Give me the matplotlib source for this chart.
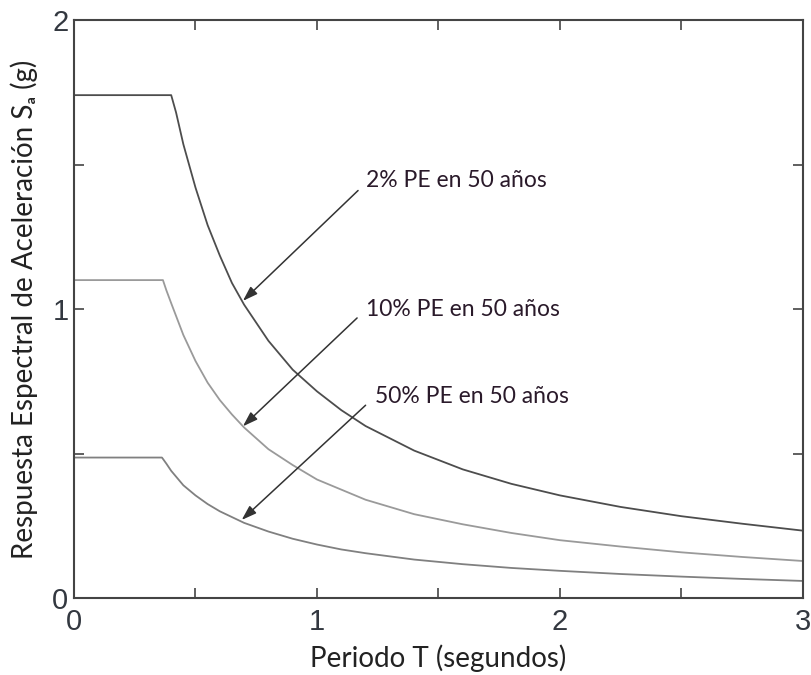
import numpy as np
import matplotlib.pyplot as plt
from matplotlib.ticker import MultipleLocator, FuncFormatter

# Periodo T (s) y Sa (g)
T_2 = [0.0, 0.40, 0.42, 0.45, 0.5, 0.55, 0.6, 0.65, 0.7, 0.8, 0.9, 1.0, 1.1, 1.2, 1.4, 1.6, 1.8, 2.0, 2.25, 2.5, 2.75, 3.0]
sa_2 = [1.74, 1.74, 1.68, 1.57, 1.42, 1.29, 1.185, 1.09, 1.015, 0.89, 0.79, 0.715, 0.65, 0.595, 0.51, 0.445, 0.395, 0.355, 0.315, 0.283, 0.257, 0.233]

T_10 = [0.0, 0.366, 0.38, 0.4, 0.45, 0.5, 0.55, 0.6, 0.65, 0.7, 0.8, 0.9, 1.0, 1.1, 1.2, 1.4, 1.6, 1.8, 2.0, 2.25, 2.5, 2.75, 3.0]
sa_10 = [1.10, 1.10, 1.065, 1.02, 0.91, 0.82, 0.745, 0.685, 0.635, 0.59, 0.515, 0.46, 0.41, 0.375, 0.34, 0.29, 0.255, 0.225, 0.20, 0.178, 0.158, 0.142, 0.128]

T_50 = [0.0, 0.362, 0.38, 0.4, 0.45, 0.5, 0.55, 0.6, 0.65, 0.7, 0.8, 0.9, 1.0, 1.1, 1.2, 1.4, 1.6, 1.8, 2.0, 2.25, 2.5, 2.75, 3.0]
sa_50 = [0.486, 0.486, 0.465, 0.44, 0.39, 0.355, 0.325, 0.30, 0.28, 0.26, 0.23, 0.205, 0.185, 0.168, 0.155, 0.133, 0.117, 0.104, 0.094, 0.083, 0.074, 0.066, 0.059]

etiquetas = ["2% PE en 50 años", "10% PE en 50 años", "50% PE en 50 años"]
pos_texto = [(1.20, 1.444), (1.20, 1.0), (1.24, 0.698)]
flecha_ini = [(1.169, 1.41), (1.165, 0.969), (1.20, 0.667)]
flecha_fin = [(0.695, 1.028), (0.695, 0.594), (0.69, 0.27)]

fuente = ["Lato", "DejaVu Sans"]

fig = plt.figure(figsize=(8.12, 6.75), dpi=100)
ax = fig.add_axes([74/812, 1 - 598/675, 729/812, 578/675])

ax.plot(T_2, sa_2, color="#4d4d4d", lw=1.3)
ax.plot(T_10, sa_10, color="#9a9a9a", lw=1.3)
ax.plot(T_50, sa_50, color="#808080", lw=1.3)

for txt, p, a, b in zip(etiquetas, pos_texto, flecha_ini, flecha_fin):
    ax.text(p[0], p[1], txt, fontsize=16.5, family=fuente,
            color="#2a1a2a", va="center", ha="left")
    ax.annotate("", xy=b, xytext=a,
                arrowprops=dict(arrowstyle="-|>,head_length=0.9,head_width=0.3",
                                color="#333333", lw=1.1, shrinkA=0, shrinkB=0))

ax.set_xlim(0, 3)
ax.set_ylim(0, 2)
ax.xaxis.set_major_locator(MultipleLocator(0.5))
ax.yaxis.set_major_locator(MultipleLocator(0.5))
entero = FuncFormatter(lambda v, p: "%d" % v if abs(v - round(v)) < 1e-6 else "")
ax.xaxis.set_major_formatter(entero)
ax.yaxis.set_major_formatter(entero)
ax.tick_params(direction="in", length=7, width=1.2, top=True, right=True,
               labelsize=21, colors="#444444", labelcolor="#333840")
ax.tick_params(axis="x", pad=7)
ax.tick_params(axis="y", pad=4)
for lab in ax.get_xticklabels() + ax.get_yticklabels():
    lab.set_family("Liberation Sans")
for s in ax.spines.values():
    s.set_color("#444444")
    s.set_linewidth(1.5)

ax.set_xlabel("Periodo T (segundos)", fontsize=20, family=fuente, color="#222222")
ax.xaxis.set_label_coords(0.5, -0.08)
ax.set_ylabel("Respuesta Espectral de Aceleración Sₐ (g)", fontsize=20,
              family=fuente, color="#222222")
ax.yaxis.set_label_coords(-0.05, 0.5)

fig.savefig("out.png", dpi=100)
